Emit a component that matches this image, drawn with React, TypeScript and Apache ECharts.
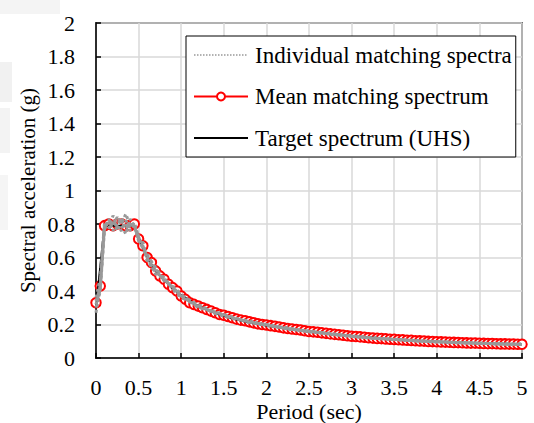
import React, { useEffect, useRef } from "react";
import * as echarts from "echarts";

const FONT = "'Liberation Serif', 'Times New Roman', serif";

const meanPeriods = [
  0, 0.05, 0.1, 0.15, 0.2, 0.25, 0.3, 0.35, 0.4, 0.45, 0.5, 0.55, 0.6, 0.65, 0.7, 0.75, 0.8, 0.85, 0.9, 0.95,
  1.0, 1.05, 1.1, 1.15, 1.2, 1.25, 1.3, 1.35, 1.4, 1.45, 1.5, 1.55, 1.6, 1.65, 1.7, 1.75, 1.8, 1.85, 1.9, 1.95,
  2.0, 2.05, 2.1, 2.15, 2.2, 2.25, 2.3, 2.35, 2.4, 2.45, 2.5, 2.55, 2.6, 2.65, 2.7, 2.75, 2.8, 2.85, 2.9, 2.95,
  3.0, 3.05, 3.1, 3.15, 3.2, 3.25, 3.3, 3.35, 3.4, 3.45, 3.5, 3.55, 3.6, 3.65, 3.7, 3.75, 3.8, 3.85, 3.9, 3.95,
  4.0, 4.05, 4.1, 4.15, 4.2, 4.25, 4.3, 4.35, 4.4, 4.45, 4.5, 4.55, 4.6, 4.65, 4.7, 4.75, 4.8, 4.85, 4.9, 4.95,
  5.0,
];

const meanSa = [
  0.33, 0.43, 0.79, 0.8, 0.79, 0.8, 0.8, 0.79, 0.79, 0.8, 0.71, 0.67, 0.6, 0.57, 0.52, 0.49, 0.47, 0.44, 0.42, 0.4,
  0.37, 0.35, 0.33, 0.32, 0.31, 0.3, 0.29, 0.28, 0.27, 0.26, 0.255, 0.248, 0.24, 0.232, 0.226, 0.222, 0.216, 0.21, 0.204, 0.2,
  0.197, 0.193, 0.189, 0.185, 0.18, 0.176, 0.173, 0.17, 0.167, 0.163, 0.158, 0.156, 0.154, 0.15, 0.147, 0.144, 0.141, 0.139, 0.136, 0.133,
  0.13, 0.128, 0.126, 0.124, 0.121, 0.119, 0.117, 0.116, 0.114, 0.112, 0.111, 0.109, 0.108, 0.106, 0.105, 0.103, 0.102, 0.101, 0.099, 0.098,
  0.097, 0.096, 0.095, 0.094, 0.093, 0.092, 0.091, 0.09, 0.089, 0.089, 0.088, 0.087, 0.086, 0.086, 0.085, 0.084, 0.084, 0.083, 0.083, 0.082,
  0.082,
];

const targetPeriods = [0, 0.1, 0.2, 0.3, 0.4, 0.45, 0.5, 0.6, 0.7, 0.8, 0.9, 1.0, 1.2, 1.4, 1.6, 1.8, 2.0, 2.25, 2.5, 2.75, 3.0, 3.5, 4.0, 4.5, 5.0];
const targetSa = [0.3, 0.79, 0.79, 0.79, 0.79, 0.79, 0.72, 0.6, 0.52, 0.465, 0.415, 0.375, 0.31, 0.268, 0.236, 0.212, 0.194, 0.175, 0.158, 0.144, 0.131, 0.111, 0.097, 0.088, 0.081];

const recordPeriods = [
  0, 0.05, 0.1, 0.15, 0.2, 0.25, 0.3, 0.35, 0.4, 0.45, 0.5, 0.55, 0.6, 0.7, 0.8, 0.9, 1.0, 1.2, 1.4, 1.6, 1.8,
  2.0, 2.25, 2.5, 2.75, 3.0, 3.25, 3.5, 3.75, 4.0, 4.25, 4.5, 4.75, 5.0,
];
const record1 = [0.3, 0.4, 0.78, 0.83, 0.76, 0.81, 0.84, 0.77, 0.8, 0.79, 0.7, 0.66, 0.62, 0.53, 0.46, 0.43, 0.38, 0.3, 0.275, 0.245, 0.21, 0.2, 0.172, 0.162, 0.141, 0.133, 0.117, 0.113, 0.101, 0.099, 0.09, 0.089, 0.083, 0.081];
const record2 = [0.36, 0.47, 0.81, 0.77, 0.85, 0.78, 0.76, 0.82, 0.78, 0.81, 0.72, 0.68, 0.58, 0.51, 0.48, 0.41, 0.36, 0.32, 0.265, 0.235, 0.222, 0.193, 0.18, 0.155, 0.147, 0.128, 0.121, 0.109, 0.105, 0.095, 0.094, 0.087, 0.085, 0.083];
const record3 = [0.27, 0.44, 0.77, 0.81, 0.8, 0.84, 0.79, 0.74, 0.83, 0.78, 0.73, 0.65, 0.61, 0.54, 0.47, 0.42, 0.375, 0.315, 0.27, 0.24, 0.214, 0.2, 0.174, 0.16, 0.142, 0.131, 0.12, 0.11, 0.102, 0.098, 0.091, 0.088, 0.083, 0.082];
const record4 = [0.34, 0.42, 0.8, 0.79, 0.82, 0.76, 0.81, 0.8, 0.76, 0.8, 0.71, 0.69, 0.59, 0.52, 0.465, 0.425, 0.365, 0.305, 0.275, 0.238, 0.218, 0.195, 0.178, 0.157, 0.146, 0.129, 0.118, 0.112, 0.104, 0.096, 0.093, 0.087, 0.085, 0.081];
const record5 = [0.32, 0.41, 0.79, 0.78, 0.79, 0.82, 0.8, 0.86, 0.79, 0.79, 0.7, 0.67, 0.6, 0.5, 0.475, 0.415, 0.37, 0.31, 0.268, 0.242, 0.215, 0.198, 0.176, 0.159, 0.143, 0.13, 0.119, 0.111, 0.103, 0.097, 0.092, 0.088, 0.084, 0.082];
const records = [record1, record2, record3, record4, record5];

const xTicks = { min: 0, max: 5, interval: 0.5 };
const yTicks = { min: 0, max: 2, interval: 0.2 };

const NAME_IND = "Individual matching spectra";
const NAME_MEAN = "Mean matching spectrum";
const NAME_TARGET = "Target spectrum (UHS)";

const zip = (xs: number[], ys: number[]) => xs.map((x, i) => [x, ys[i]]);

export default function App() {
  const ref = useRef<HTMLDivElement>(null);
  useEffect(() => {
    if (!ref.current) return;
    const chart = echarts.init(ref.current, undefined, { renderer: "svg" });
    const axisCommon = {
      axisLine: { show: true, lineStyle: { color: "#000", width: 1.5 } },
      axisTick: { show: true, inside: true, length: 5, lineStyle: { color: "#000", width: 1.5 } },
      splitLine: { show: true, lineStyle: { color: "#d9d9d9", width: 1.5 } },
      nameTextStyle: { fontFamily: FONT, fontSize: 22, color: "#000" },
      nameMoveOverlap: false,
    };
    chart.setOption({
      animation: false,
      backgroundColor: "#fff",
      graphic: [
        { type: "rect", shape: { x: 0, y: 0, width: 60, height: 14 }, style: { fill: "#f4f4f4" }, z: -10 },
        { type: "rect", shape: { x: 0, y: 62, width: 12, height: 40 }, style: { fill: "#f1f1f1" }, z: -10 },
        { type: "rect", shape: { x: 0, y: 108, width: 10, height: 45 }, style: { fill: "#f3f3f3" }, z: -10 },
        { type: "rect", shape: { x: 0, y: 175, width: 8, height: 55 }, style: { fill: "#f5f5f5" }, z: -10 },
      ],
      grid: {
        left: 96,
        top: 23,
        right: 12,
        bottom: 65,
        show: true,
        borderColor: "#000",
        borderWidth: 1.5,
        containLabel: false,
        outerBoundsMode: "none",
      },
      xAxis: {
        type: "value",
        ...xTicks,
        ...axisCommon,
        name: "Period (sec)",
        nameLocation: "middle",
        nameGap: 42,
        nameTextStyle: { fontFamily: FONT, fontSize: 22, color: "#000", lineHeight: 22 },
        axisLabel: { fontFamily: FONT, fontSize: 22, color: "#000", margin: 18, lineHeight: 22 },
      },
      yAxis: {
        type: "value",
        ...yTicks,
        ...axisCommon,
        name: "Spectral acceleration (g)",
        nameLocation: "middle",
        nameGap: 58,
        nameTextStyle: { fontFamily: FONT, fontSize: 21, color: "#000" },
        axisLabel: { fontFamily: FONT, fontSize: 22, color: "#000", margin: 21 },
      },
      legend: {
        left: 186,
        top: 36,
        orient: "vertical",
        backgroundColor: "#fff",
        borderColor: "#000",
        borderWidth: 1,
        padding: [7, 4, 7, 7],
        itemWidth: 54,
        itemHeight: 10,
        itemGap: 17.5,
        selectedMode: false,
        textStyle: { fontFamily: FONT, fontSize: 23, color: "#000", lineHeight: 24, padding: [0, 0, 0, 2] },
        data: [
          { name: NAME_IND, itemStyle: { opacity: 0 }, lineStyle: { width: 1.5 } },
          { name: NAME_MEAN },
          { name: NAME_TARGET, itemStyle: { opacity: 0 } },
        ],
      },
      series: [
        {
          name: NAME_MEAN,
          type: "line",
          z: 2,
          data: zip(meanPeriods, meanSa),
          symbol: "emptyCircle",
          symbolSize: 9.5,
          showSymbol: true,
          lineStyle: { color: "#ff0000", width: 1.5 },
          itemStyle: { color: "#ff0000", borderWidth: 1.5 },
        },
        {
          name: NAME_TARGET,
          type: "line",
          z: 3,
          data: zip(targetPeriods, targetSa),
          symbol: "none",
          lineStyle: { color: "#000", width: 2 },
          itemStyle: { color: "#000" },
        },
        ...records.map((r) => ({
          name: NAME_IND,
          type: "line",
          z: 4,
          data: zip(recordPeriods, r),
          symbol: "none",
          lineStyle: { color: "#999999", width: 3, type: "dotted" },
          itemStyle: { color: "#999999" },
        })),
      ],
    });
    return () => chart.dispose();
  }, []);
  return <div ref={ref} style={{ width: 534, height: 423, position: "absolute", left: 0, top: 0 }} />;
}
